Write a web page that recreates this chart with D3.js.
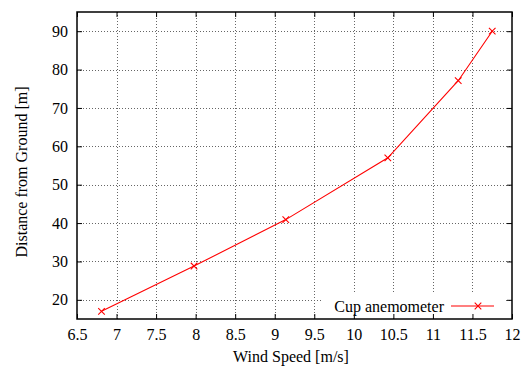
<!DOCTYPE html>
<html>
<head>
<meta charset="utf-8">
<script src="https://cdn.jsdelivr.net/npm/d3@7"></script>
<style>
  body { margin: 0; background: #fff; }
</style>
</head>
<body>
<script>
// wind speed profile
const windSpeed = [6.81, 7.98, 9.14, 10.43, 11.32, 11.75];
const height = [17, 28.8, 40.9, 57, 77.1, 90];
const xTicks = [6.5, 7, 7.5, 8, 8.5, 9, 9.5, 10, 10.5, 11, 11.5, 12];
const yTicks = [20, 30, 40, 50, 60, 70, 80, 90];
const seriesName = 'Cup anemometer';

const W = 531, H = 370;
const margin = { top: 12, right: 19, bottom: 51, left: 77 };
const FONT = '"Liberation Serif", "Times New Roman", Times, serif';

const svg = d3.select('body').append('svg')
    .attr('width', W)
    .attr('height', H)
    .style('font-family', FONT)
    .style('font-size', '16px');

const x = d3.scaleLinear().domain([6.5, 12]).range([margin.left, W - margin.right]);
const y = d3.scaleLinear().domain([15, 95]).range([H - margin.bottom, margin.top]);

// grid
const grid = svg.append('g')
    .attr('stroke', '#666')
    .attr('stroke-width', 1)
    .attr('stroke-dasharray', '1,2');
grid.selectAll('.gx').data(xTicks.slice(1, -1)).enter().append('line')
    .attr('x1', d => Math.round(x(d)) + 0.5).attr('x2', d => Math.round(x(d)) + 0.5)
    .attr('y1', y(95)).attr('y2', y(15));
grid.selectAll('.gy').data(yTicks).enter().append('line')
    .attr('x1', x(6.5)).attr('x2', x(12))
    .attr('y1', d => Math.round(y(d)) + 0.5).attr('y2', d => Math.round(y(d)) + 0.5);

// legend box hides grid behind it
svg.append('rect')
    .attr('x', 322).attr('y', 292)
    .attr('width', 184).attr('height', 26)
    .attr('fill', '#fff');

// axes with inward ticks, mirrored
const fmt = d3.format('');
const clean = g => {
    g.attr('font-family', null).attr('font-size', null);
    g.select('.domain').remove();
};
svg.append('g')
    .attr('transform', `translate(0,${y(15)})`)
    .call(d3.axisBottom(x).tickValues(xTicks).tickFormat(fmt).tickSizeInner(-5).tickSizeOuter(0).tickPadding(10))
    .call(clean);
svg.append('g')
    .attr('transform', `translate(0,${y(95)})`)
    .call(d3.axisTop(x).tickValues(xTicks).tickFormat('').tickSizeInner(-5).tickSizeOuter(0))
    .call(clean);
svg.append('g')
    .attr('transform', `translate(${x(6.5)},0)`)
    .call(d3.axisLeft(y).tickValues(yTicks).tickFormat(fmt).tickSizeInner(-5).tickSizeOuter(0).tickPadding(9))
    .call(clean);
svg.append('g')
    .attr('transform', `translate(${x(12)},0)`)
    .call(d3.axisRight(y).tickValues(yTicks).tickFormat('').tickSizeInner(-5).tickSizeOuter(0))
    .call(clean);

svg.selectAll('.tick line').attr('stroke', '#000');
svg.selectAll('.tick text').attr('fill', '#000');

// border
svg.append('rect')
    .attr('x', x(6.5)).attr('y', y(95))
    .attr('width', x(12) - x(6.5)).attr('height', y(15) - y(95))
    .attr('fill', 'none')
    .attr('stroke', '#000')
    .attr('stroke-width', 1.5);

// series
const pts = windSpeed.map((v, i) => [v, height[i]]);
const line = d3.line().x(d => x(d[0])).y(d => y(d[1]));
svg.append('path')
    .datum(pts)
    .attr('fill', 'none')
    .attr('stroke', '#ff0000')
    .attr('stroke-width', 1.1)
    .attr('d', line);

const cross = d3.symbol().type(d3.symbolX).size(30);
svg.selectAll('.pt').data(pts).enter().append('path')
    .attr('transform', d => `translate(${x(d[0])},${y(d[1])})`)
    .attr('d', cross)
    .attr('fill', 'none')
    .attr('stroke', '#ff0000')
    .attr('stroke-width', 1.1);

// legend
const ly = 306;
svg.append('text')
    .attr('x', 444).attr('y', ly)
    .attr('dy', '0.35em')
    .attr('text-anchor', 'end')
    .text(seriesName);
svg.append('line')
    .attr('x1', 451).attr('x2', 494)
    .attr('y1', ly).attr('y2', ly)
    .attr('stroke', '#ff0000')
    .attr('stroke-width', 1.1);
svg.append('path')
    .attr('transform', `translate(478,${ly})`)
    .attr('d', cross)
    .attr('fill', 'none')
    .attr('stroke', '#ff0000')
    .attr('stroke-width', 1.1);

// axis titles
svg.append('text')
    .attr('x', 291).attr('y', 362)
    .attr('text-anchor', 'middle')
    .text('Wind Speed [m/s]');
svg.append('text')
    .attr('transform', 'translate(27,172) rotate(-90)')
    .attr('text-anchor', 'middle')
    .text('Distance from Ground [m]');
</script>
</body>
</html>
